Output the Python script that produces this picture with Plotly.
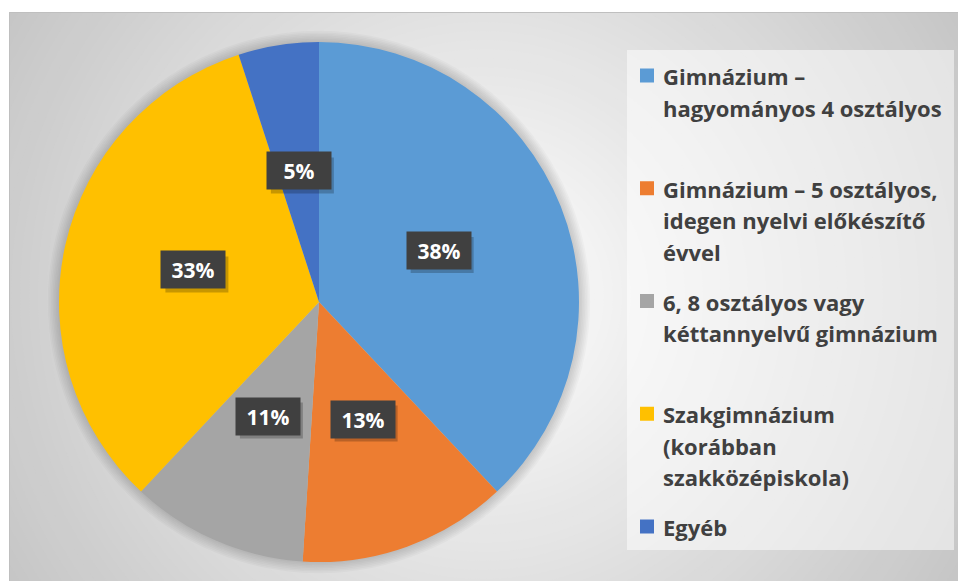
import math
import plotly.graph_objects as go

# ---- data ----
categories = [
    "Gimnázium –<br>hagyományos 4 osztályos",
    "Gimnázium – 5 osztályos,<br>idegen nyelvi előkészítő<br>évvel",
    "6, 8 osztályos vagy<br>kéttannyelvű gimnázium",
    "Szakgimnázium<br>(korábban<br>szakközépiskola)",
    "Egyéb",
]
percentages = [38, 13, 11, 33, 5]
colors = ["#5B9BD5", "#ED7D31", "#A5A5A5", "#FFC000", "#4472C4"]

W, H = 958, 581
CX, CY, R = 319, 302, 260  # pie geometry in pixels
FONT = "Open Sans"


def px(x):
    return x / W


def py(y):
    return 1 - y / H


fig = go.Figure()
fig.add_trace(go.Pie(
    labels=[c.replace("<br>", " ") for c in categories],
    values=percentages,
    marker=dict(colors=colors, line=dict(width=0)),
    sort=False,
    direction="clockwise",
    rotation=0,
    textinfo="none",
    hoverinfo="label+percent",
    showlegend=False,
    domain=dict(x=[px(CX - R), px(CX + R)], y=[py(CY + R), py(CY - R)]),
))

shapes = []
# radial background gradient
GCX, GCY = 483, 296
rmax = 580
step = 9
rr = rmax
while rr > 0:
    c = int(round(max(196, 255 - 0.103 * rr)))
    col = f"rgb({c},{c},{c})"
    shapes.append(dict(type="circle", xref="paper", yref="paper", layer="below",
                       x0=px(GCX - rr), x1=px(GCX + rr), y0=py(GCY + rr), y1=py(GCY - rr),
                       fillcolor=col, line=dict(width=0)))
    rr -= step
# soft shadow around pie
for i in range(7, 0, -1):
    ri = R + i * 1.6
    shapes.append(dict(type="circle", xref="paper", yref="paper", layer="below",
                       x0=px(CX - ri), x1=px(CX + ri), y0=py(CY + ri), y1=py(CY - ri),
                       fillcolor="rgba(0,0,0,0.022)", line=dict(width=0)))
# white margins outside the chart frame
shapes.append(dict(type="rect", xref="paper", yref="paper", layer="below",
                   x0=0, x1=1, y0=py(12), y1=1.02, fillcolor="white", line=dict(width=0)))
shapes.append(dict(type="rect", xref="paper", yref="paper", layer="below",
                   x0=-0.02, x1=px(9), y0=-0.02, y1=1.02, fillcolor="white", line=dict(width=0)))
# frame border
shapes.append(dict(type="rect", xref="paper", yref="paper", layer="below",
                   x0=px(9.5), x1=1.01, y0=-0.01, y1=py(12.5),
                   fillcolor="rgba(0,0,0,0)", line=dict(color="#BFBFBF", width=1)))
# legend panel
shapes.append(dict(type="rect", xref="paper", yref="paper", layer="below",
                   x0=px(627), x1=px(954), y0=py(550), y1=py(50),
                   fillcolor="rgba(255,255,255,0.5)", line=dict(width=0)))

annotations = []
# data labels in dark boxes
BW, BH = 62, 35
total = sum(percentages)
cum = 0
for v in percentages:
    mid = (cum + v / 2) / total * 2 * math.pi
    cum += v
    rl = 0.495 * R
    lx = CX + rl * math.sin(mid)
    ly = CY - rl * math.cos(mid) - 4
    txt = f"<b>{round(v / total * 100)}%</b>"
    # drop shadow of the label box
    shapes.append(dict(type="rect", xref="paper", yref="paper", layer="above",
                       x0=px(lx - BW / 2 + 3), x1=px(lx + BW / 2 + 4),
                       y0=py(ly + BH / 2 + 5), y1=py(ly - BH / 2 + 4),
                       fillcolor="rgba(0,0,0,0.22)", line=dict(width=0)))
    annotations.append(dict(x=px(lx), y=py(ly), xref="paper", yref="paper",
                            xanchor="center", yanchor="middle",
                            text=txt, showarrow=False,
                            font=dict(family=FONT, size=21, color="white"),
                            bgcolor="#404040", width=BW, height=BH, borderpad=1))

# legend (squares + text lines)
LEG_X_SQ, LEG_X_TXT = 640, 661
first_y = 76
item_pitch = 112.75
line_pitch = 31.5
for i, (cat, col) in enumerate(zip(categories, colors)):
    y0 = first_y + i * item_pitch
    shapes.append(dict(type="rect", xref="paper", yref="paper",
                       x0=px(LEG_X_SQ), x1=px(LEG_X_SQ + 14), y0=py(y0 + 6.5), y1=py(y0 - 7.5),
                       fillcolor=col, line=dict(width=0)))
    for j, line in enumerate(cat.split("<br>")):
        annotations.append(dict(x=px(LEG_X_TXT), y=py(y0 + j * line_pitch), xref="paper", yref="paper",
                                text=f"<b>{line}</b>", showarrow=False, xanchor="left", yanchor="middle",
                                font=dict(family=FONT, size=22, color="#404040")))

fig.update_layout(
    width=W, height=H,
    margin=dict(l=0, r=0, t=0, b=0, pad=0),
    paper_bgcolor="white",
    plot_bgcolor="white",
    shapes=shapes,
    annotations=annotations,
    showlegend=False,
)

fig.write_html("out.html", config={"displayModeBar": False},
               post_script="document.body.style.margin='0';document.body.style.padding='0';")
